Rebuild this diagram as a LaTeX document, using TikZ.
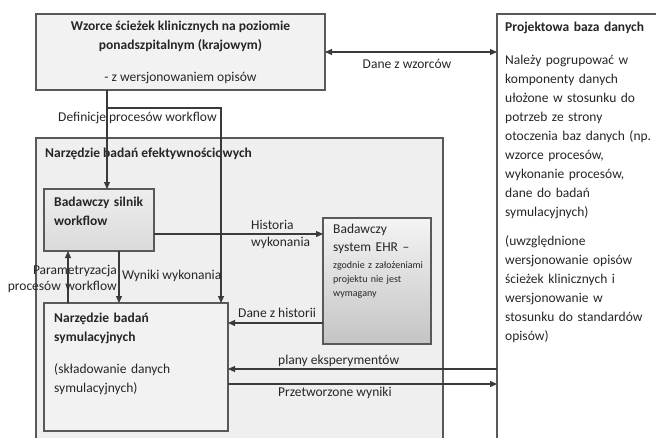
\documentclass[tikz,border=0pt]{standalone}
\usepackage{fontspec}
\setmainfont{Carlito}
\usepackage{tikz}
\usetikzlibrary{positioning,arrows.meta,calc}
\definecolor{BoxLine}{HTML}{595959}
\definecolor{ArrLine}{HTML}{3A3A3A}
\definecolor{TxtGray}{HTML}{262626}
\definecolor{PanelGray}{HTML}{EFEFEF}
\definecolor{BoxGray}{HTML}{F2F2F2}
\definecolor{SilTop}{HTML}{EEEEEE}
\definecolor{SilBot}{HTML}{DADADA}
\definecolor{EhrTop}{HTML}{F4F4F4}
\definecolor{EhrBot}{HTML}{C4C4C4}

\begin{document}
\begin{tikzpicture}[x=1pt,y=-1pt,
  box/.style={draw=BoxLine,line width=1.1pt,inner sep=0pt,outer sep=0pt},
  txt/.style={inner sep=0pt,text=TxtGray,font=\fontsize{13.5}{19}\selectfont},
  small/.style={inner sep=0pt,text=TxtGray,font=\fontsize{10}{14}\selectfont},
  arr/.style={draw=ArrLine,line width=1.1pt,-{Triangle[length=7pt,width=6pt]}}]
  \clip (0,0) rectangle (656,437);
  \fill[white] (0,0) rectangle (656,437);

  % boxes
  \node[box,fill=white,minimum width=203pt,minimum height=446pt] (pb) at (598.5,237) {};
  \node[box,fill=PanelGray,minimum width=407pt,minimum height=332pt] (nbe) at (239.5,304) {};
  \node[box,fill=BoxGray,minimum width=289pt,minimum height=76pt,txt,align=center] (wz) at (180.5,52)
    {\textbf{Wzorce ścieżek klinicznych na poziomie}\\\textbf{ponadszpitalnym (krajowym)}\\[13pt]- z wersjonowaniem opisów};
  \node[box,top color=SilTop,bottom color=SilBot,minimum width=110pt,minimum height=62pt] (sil) at (99,220) {};
  \node[box,top color=EhrTop,bottom color=EhrBot,minimum width=108pt,minimum height=126pt] (ehr) at (377,281) {};
  \node[box,fill=BoxGray,minimum width=184pt,minimum height=128pt] (sym) at (136,367) {};

  % box texts
  \node[txt,anchor=base west,text width=150pt,align=left] (pbtx) at (505,31)
    {\textbf{Projektowa baza danych}\\[14pt]Należy pogrupować w\\komponenty danych\\ułożone w stosunku do\\potrzeb ze strony\\otoczenia baz danych (np.\\wzorce procesów,\\wykonanie procesów,\\dane do badań\\symulacyjnych)\\[10pt](uwzględnione\\wersjonowanie opisów\\ścieżek klinicznych i\\wersjonowanie w\\stosunku do standardów\\opisów)};
  \node[txt,anchor=base west] (nbetx) at (45,157) {\textbf{Narzędzie badań efektywnościowych}};
  \node[txt,anchor=base west,text width=100pt,align=left] (siltx) at (54,206)
    {\textbf{Badawczy silnik}\\\textbf{workflow}};
  \node[txt,anchor=base west,text width=100pt,align=left] (ehrtx) at (333,233)
    {Badawczy\\[-1pt]system EHR --};
  \node[small,anchor=base west,text width=100pt,align=left] (ehrsm) at (333,268)
    {zgodnie z założeniami\\projektu nie jest\\wymagany};
  \node[txt,anchor=base west,text width=170pt,align=left] (symtx) at (54,322)
    {\textbf{Narzędzie badań}\\\textbf{symulacyjnych}\\[13pt](składowanie danych\\symulacyjnych)};

  % connector points
  \coordinate (def) at (107,108);
  \coordinate (defr) at (221,108);
  \coordinate (par) at (68,280);
  \coordinate (wyn) at (119,280);
  \coordinate (his) at (250,234);
  \coordinate (dzh) at (280,323);
  \coordinate (pla) at (360,369);
  \coordinate (prz) at (360,384);

  % connectors
  \draw[arr,{Triangle[length=7pt,width=6pt]}-{Triangle[length=7pt,width=6pt]}] (wz.east) -- (wz.east -| pb.west);
  \draw[arr] (wz.south -| def) -- (sil.north -| def);
  \draw[arr] (def) -- (defr) -- (sym.north -| defr);
  \draw[arr] (sym.north -| par) -- (sil.south -| par);
  \draw[arr] (sil.south -| wyn) -- (sym.north -| wyn);
  \draw[arr] (sil.east |- his) -- (ehr.west |- his);
  \draw[arr] (ehr.west |- dzh) -- (sym.east |- dzh);
  \draw[arr] (pb.west |- pla) -- (sym.east |- pla);
  \draw[arr] (sym.east |- prz) -- (pb.west |- prz);

  % labels
  \node[txt,anchor=base] (dzwl) at (407,68) {Dane z wzorców};
  \node[txt,anchor=base west,text width=80pt,align=left] (hisl) at (251,229) {Historia\\[-2pt]wykonania};
  \node[txt,anchor=base east,text width=112pt,align=right] (parl) at (117,274) {Parametryzacja\\[-3pt]procesów workflow};
  \foreach \nm/\x/\y/\tx in {defl/58/121/Definicje procesów workflow, wynl/122/279/Wyniki wykonania,
      dzhl/238/317/Dane z historii, plal/278/364/plany eksperymentów, przl/278/396/Przetworzone wyniki}{
    \node[txt,anchor=base west] (\nm) at (\x,\y) {\tx};
  }
\end{tikzpicture}
\end{document}
